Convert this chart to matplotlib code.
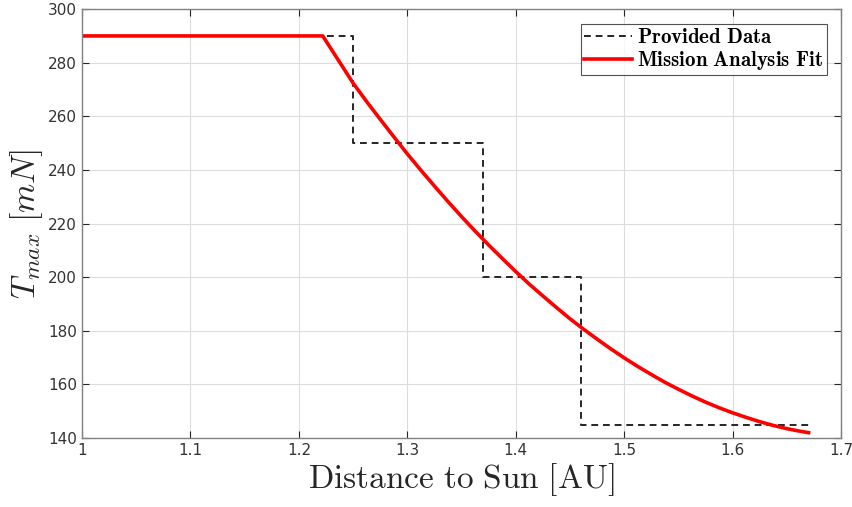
import numpy as np
import matplotlib
matplotlib.use("Agg")
import matplotlib.pyplot as plt

plt.rcParams['mathtext.fontset'] = 'cm'

# Provided data (step profile)
data_dist = [1.0, 1.25, 1.25, 1.37, 1.37, 1.46, 1.46, 1.67]
data_thrust = [290, 290, 250, 250, 200, 200, 145, 145]

# Mission analysis fit
fit_dist = [1.0, 1.222, 1.25, 1.2625, 1.275, 1.2875, 1.3, 1.3125, 1.325, 1.3375,
            1.35, 1.3625, 1.375, 1.3875, 1.4, 1.4125, 1.425, 1.4375, 1.45, 1.4625,
            1.475, 1.4875, 1.5, 1.5125, 1.525, 1.5375, 1.55, 1.5625, 1.575, 1.5875,
            1.6, 1.6125, 1.625, 1.6375, 1.65, 1.66, 1.67]
fit_thrust = [290, 290, 272.4, 265.5, 258.9, 252.4, 246.0, 239.9, 234.0, 228.2,
              222.6, 217.2, 212.0, 207.0, 202.1, 197.4, 193.0, 188.7, 184.5, 180.6,
              176.9, 173.3, 169.9, 166.7, 163.7, 160.8, 158.2, 155.7, 153.4, 151.3,
              149.4, 147.7, 146.1, 144.7, 143.5, 142.7, 142.0]

xticks = [1, 1.1, 1.2, 1.3, 1.4, 1.5, 1.6, 1.7]
xticklabels = ['1', '1.1', '1.2', '1.3', '1.4', '1.5', '1.6', '1.7']
yticks = [140, 160, 180, 200, 220, 240, 260, 280, 300]

fig = plt.figure(figsize=(8.53, 5.07), dpi=100)
ax = fig.add_axes([0.0961, 0.136, 0.890, 0.846])

ax.plot(data_dist, data_thrust, linestyle=(0, (3.5, 2.5)), color='#262626', lw=1.4,
        label=r'$\mathbf{Provided\ Data}$')
ax.plot(fit_dist, fit_thrust, color='#ff0000', lw=2.6, solid_joinstyle='round',
        label=r'$\mathbf{Mission\ Analysis\ Fit}$')

ax.set_xlim(1, 1.7)
ax.set_ylim(140, 300)
ax.set_xticks(xticks)
ax.set_xticklabels(xticklabels)
ax.set_yticks(yticks)
ax.grid(True, color='#dcdcdc', lw=0.8)
ax.set_axisbelow(True)
ax.tick_params(direction='in', top=True, right=True, labelsize=11, colors='#262626',
               length=5, width=0.8)
for lbl in ax.get_xticklabels() + ax.get_yticklabels():
    lbl.set_color('#333333')
for s in ax.spines.values():
    s.set_color('#808080')
    s.set_linewidth(1.0)

ax.set_xlabel(r'$\mathrm{Distance\ to\ Sun\ [AU]}$', fontsize=24, color='#262626', labelpad=2)
ax.set_ylabel(r'$T_{max}\ [mN]$', fontsize=24, color='#262626', labelpad=2)

leg = ax.legend(loc='upper right', fontsize=15, frameon=True, fancybox=False,
                edgecolor='#262626', handlelength=2.3, handletextpad=0.25,
                borderpad=0.15, labelspacing=0.1, borderaxespad=0.7)
leg.get_frame().set_linewidth(0.8)

fig.savefig('out.png', dpi=100)
